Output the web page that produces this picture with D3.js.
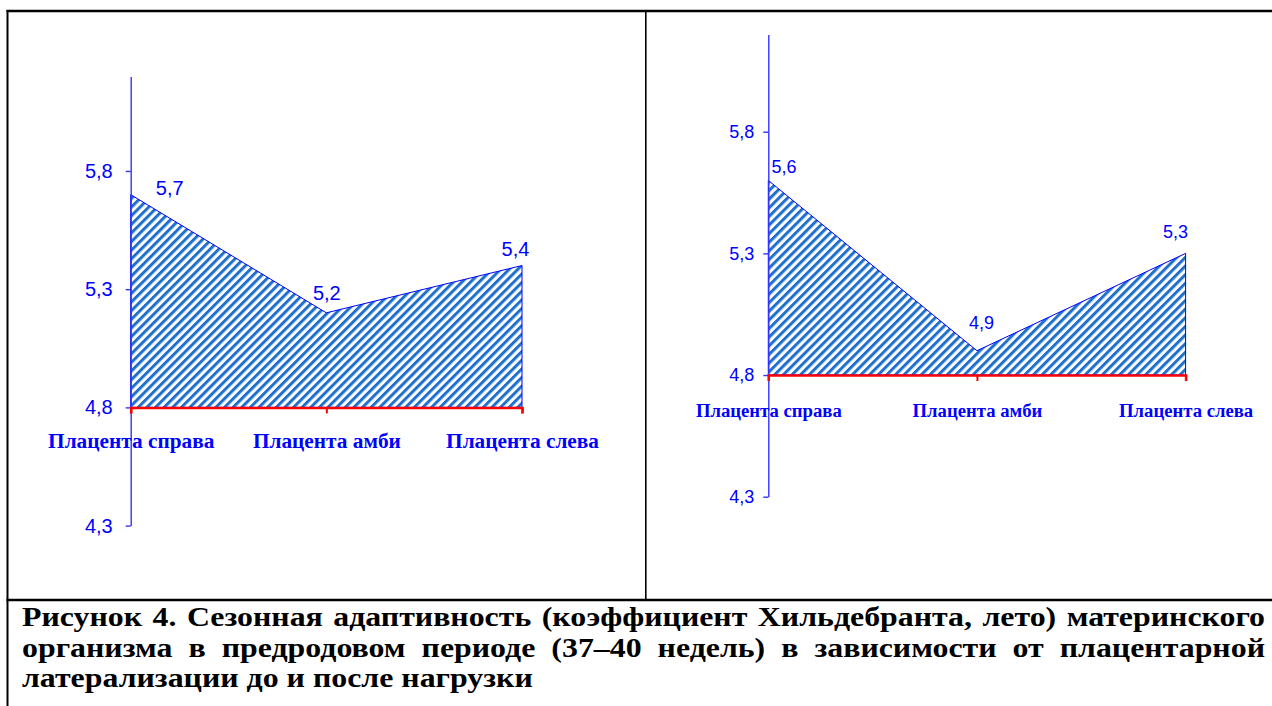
<!DOCTYPE html>
<html>
<head>
<meta charset="utf-8">
<script src="https://cdn.jsdelivr.net/npm/d3@7"></script>
<style>
  html, body { margin: 0; padding: 0; background: #fff; }
  svg { display: block; }
</style>
</head>
<body>
<svg id="chart" width="1272" height="706"></svg>
<script>
// ---- data ----
const categories = ["Плацента справа", "Плацента амби", "Плацента слева"];
const valuesBefore = [5.7, 5.2, 5.4];
const valuesAfter = [5.6, 4.9, 5.3];
const yTicks = [4.3, 4.8, 5.3, 5.8];
const yDomain = [4.3, 6.2];
const baseValue = 4.8;
const captionLines = [
  "Рисунок 4. Сезонная адаптивность (коэффициент Хильдебранта, лето) материнского",
  "организма в предродовом периоде (37–40 недель) в зависимости от плацентарной",
  "латерализации до и после нагрузки"
];

// ---- layout ----
const panels = [
  { values: valuesBefore, x0: 130.7, x1: 522, yBot: 525.6, yTop: 76.4,
    tickFont: 20, tickPad: 13, catFont: 21.3, catPad: 20,
    labelOffsets: [[39, 0.5], [0.5, -12.8], [-6.5, -10]] },
  { values: valuesAfter, x0: 768.3, x1: 1185.6, yBot: 496.7, yTop: 34.4,
    tickFont: 18, tickPad: 9, catFont: 18.7, catPad: 22.7,
    labelOffsets: [[15.7, -7], [4.6, -21.7], [-10, -15.8]] }
];

const svg = d3.select("#chart");
const fmt = d => d3.format(".1f")(d).replace(".", ",");

// hatch pattern
const defs = svg.append("defs");
defs.append("pattern")
  .attr("id", "hatch")
  .attr("patternUnits", "userSpaceOnUse")
  .attr("width", 6.1).attr("height", 10)
  .attr("patternTransform", "rotate(45)")
  .append("rect")
  .attr("x", 0).attr("y", 0).attr("width", 3.0).attr("height", 10)
  .attr("fill", "#1f6fcc");

// frame
const frame = svg.append("g").attr("stroke", "#000").attr("fill", "none");
frame.append("line").attr("x1", 6.5).attr("x2", 1272).attr("y1", 11).attr("y2", 11).attr("stroke-width", 2.5);
frame.append("line").attr("x1", 7.5).attr("x2", 7.5).attr("y1", 10).attr("y2", 706).attr("stroke-width", 2);
frame.append("line").attr("x1", 645.8).attr("x2", 645.8).attr("y1", 11).attr("y2", 600).attr("stroke-width", 1.6);
frame.append("line").attr("x1", 6.5).attr("x2", 1272).attr("y1", 600).attr("y2", 600).attr("stroke-width", 2.5);

panels.forEach(p => {
  const x = d3.scalePoint().domain(categories).range([p.x0, p.x1]);
  const y = d3.scaleLinear().domain(yDomain).range([p.yBot, p.yTop]);
  const g = svg.append("g");

  // area
  const area = d3.area()
    .x((d, i) => x(categories[i]))
    .y0(y(baseValue))
    .y1(d => y(d));
  g.append("path").datum(p.values)
    .attr("d", area)
    .attr("fill", "url(#hatch)")
    .attr("stroke", "#0000ff")
    .attr("stroke-width", 1);

  // y axis
  const yAxis = g.append("g")
    .attr("transform", `translate(${p.x0},0)`)
    .call(d3.axisLeft(y).tickValues(yTicks).tickSize(5).tickSizeOuter(0)
      .tickPadding(p.tickPad).tickFormat(fmt));
  yAxis.select(".domain").attr("stroke", "#3333ff").attr("stroke-width", 1.4);
  yAxis.selectAll(".tick line").attr("stroke", "#3333ff").attr("stroke-width", 1.4);
  yAxis.selectAll(".tick text")
    .attr("fill", "#0000ff")
    .attr("font-family", "'Liberation Sans', Arial, sans-serif")
    .attr("font-size", p.tickFont);

  // x axis (red, crossing at base value)
  const xAxis = g.append("g")
    .attr("transform", `translate(0,${y(baseValue)})`)
    .call(d3.axisBottom(x).tickSize(6).tickSizeOuter(6).tickPadding(p.catPad));
  xAxis.select(".domain").attr("stroke", "#ff0000").attr("stroke-width", 2.5);
  xAxis.selectAll(".tick line").attr("stroke", "#ff0000").attr("stroke-width", 2);
  xAxis.selectAll(".tick text")
    .attr("fill", "#0000ff")
    .attr("font-family", "'Liberation Serif', 'Times New Roman', serif")
    .attr("font-weight", "bold")
    .attr("font-size", p.catFont);

  // data labels
  g.selectAll(".dlabel").data(p.values).join("text")
    .attr("class", "dlabel")
    .attr("x", (d, i) => x(categories[i]) + p.labelOffsets[i][0])
    .attr("y", (d, i) => y(d) + p.labelOffsets[i][1])
    .attr("text-anchor", "middle")
    .attr("fill", "#0000ff")
    .attr("font-family", "'Liberation Sans', Arial, sans-serif")
    .attr("font-size", p.tickFont)
    .text(fmt);
});

// caption, justified, slightly widened glyphs as in the reference
const capLeft = 22, capRight = 1265;
const capBase = [626, 656.5, 687];
const capFamily = "'Liberation Serif', 'Times New Roman', serif";
const capFont = 27;
const capStretch = 1.18;
const localWidth = (capRight - capLeft) / capStretch;

captionLines.forEach((line, li) => {
  const words = line.split(" ");
  const gl = svg.append("g")
    .attr("transform", `translate(${capLeft},${capBase[li]}) scale(${capStretch},1)`)
    .attr("font-family", capFamily)
    .attr("font-weight", "bold")
    .attr("font-size", capFont)
    .attr("fill", "#000");
  const nodes = words.map(w => gl.append("text").attr("y", 0).text(w));
  const widths = nodes.map(n => n.node().getComputedTextLength());
  const total = d3.sum(widths);
  const justify = li < captionLines.length - 1;
  let space = justify ? (localWidth - total) / (words.length - 1) : capFont * 0.25;
  if (space < capFont * 0.2) space = capFont * 0.2;
  let cx = 0;
  nodes.forEach((n, i) => { n.attr("x", cx); cx += widths[i] + space; });
});
</script>
</body>
</html>
